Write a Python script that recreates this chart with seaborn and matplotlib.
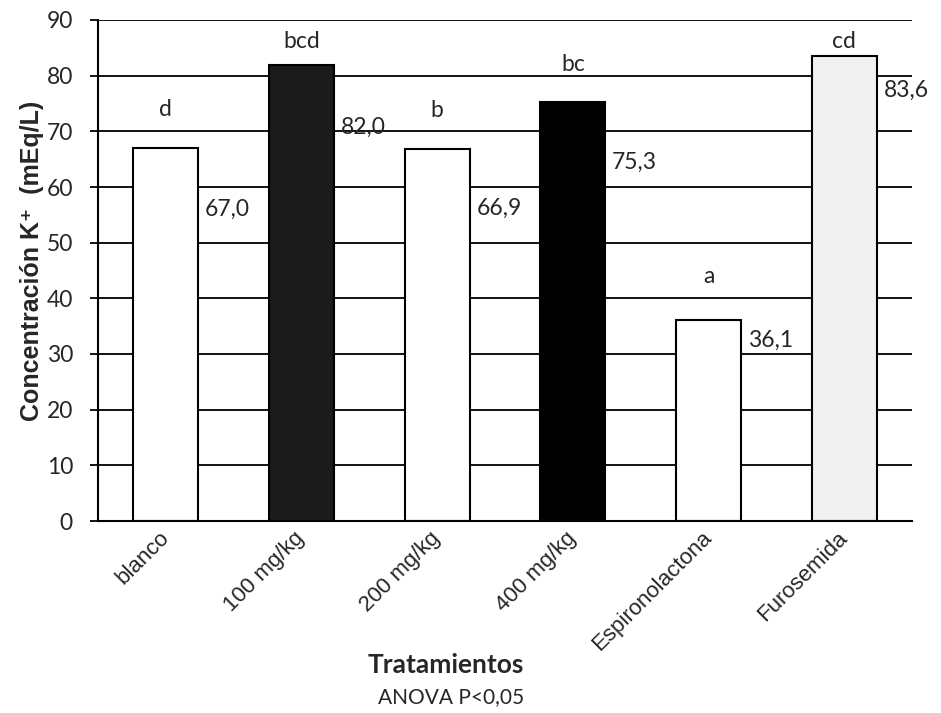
import matplotlib
matplotlib.use("Agg")
import matplotlib.pyplot as plt
import seaborn as sns
import pandas as pd

# Datos
tratamientos = ["blanco", "100 mg/kg", "200 mg/kg", "400 mg/kg", "Espironolactona", "Furosemida"]
potasio = [67.0, 82.0, 66.9, 75.3, 36.1, 83.6]
letras = ["d", "bcd", "b", "bc", "a", "cd"]
colores = ["white", "#1b1b1b", "white", "black", "white", "#f1f1f1"]

# ajustes de posicion de las etiquetas (en unidades de mEq/L)
gap_letra = [5.0, 2.2, 5.0, 4.8, 5.9, 0.6]
caida_valor = [11.1, 11.2, 10.7, 10.8, 3.6, 6.2]

df = pd.DataFrame({"Tratamiento": tratamientos, "K": potasio})

sns.set_style("white")
plt.rcParams["font.family"] = ["Lato", "DejaVu Sans"]
arial = ["Liberation Sans", "DejaVu Sans"]

fig = plt.figure(figsize=(9.41, 7.13), dpi=100)
ax = fig.add_axes([98 / 941, 1 - 521 / 713, 814 / 941, 501 / 713])

sns.barplot(data=df, x="Tratamiento", y="K", hue="Tratamiento", palette=colores,
            saturation=1, width=0.48, edgecolor="black", linewidth=1.5,
            legend=False, ax=ax)

ax.set_ylim(0, 90)
ax.set_xlim(-0.5, 5.5)
ax.set_yticks(range(0, 91, 10))
ax.yaxis.grid(True, color="black", linewidth=1.3)
ax.xaxis.grid(False)
ax.set_axisbelow(True)

for side in ["top", "right"]:
    ax.spines[side].set_visible(False)
for side in ["left", "bottom"]:
    ax.spines[side].set_color("black")
    ax.spines[side].set_linewidth(1.5)

ax.tick_params(axis="y", direction="out", length=6, width=1.3, color="black",
               pad=12, labelsize=16.5, left=True)
ax.set_xticks(range(len(tratamientos)))
ax.set_xticklabels(tratamientos, rotation=45, ha="right", va="center",
                   rotation_mode="anchor", fontsize=16, family=arial)
ax.tick_params(axis="x", length=0, pad=10)

ax.set_xlabel("")
ax.set_ylabel("Concentración K⁺  (mEq/L)", fontsize=18, fontweight="bold",
              family=arial)
ax.yaxis.set_label_coords(-0.066, 0.52)

# letras de significancia y valores
for i, (v, l) in enumerate(zip(potasio, letras)):
    ax.text(i, v + gap_letra[i], l, ha="center", va="bottom", fontsize=16.5)
    ax.text(i + 0.29, v - caida_valor[i], f"{v:.1f}".replace(".", ","),
            ha="left", va="center", fontsize=16.5)

fig.text(446 / 941, 1 - 673 / 713, "Tratamientos", ha="center", va="baseline",
         fontsize=19, fontweight="bold")
fig.text(451 / 941, 1 - 703 / 713, "ANOVA P<0,05", ha="center", va="baseline",
         fontsize=15)

fig.savefig("out.png", dpi=100)
